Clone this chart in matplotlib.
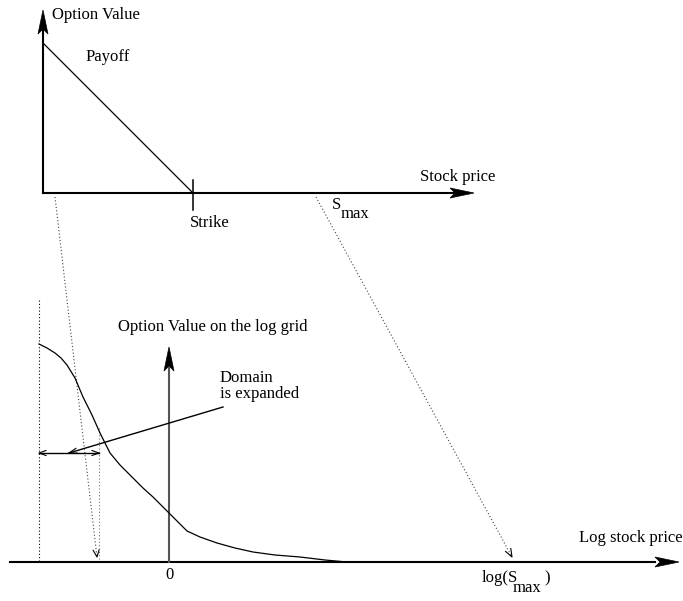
import matplotlib
matplotlib.use("Agg")
import matplotlib.pyplot as plt
from matplotlib.patches import Polygon

plt.rcParams['font.family'] = ['Liberation Serif', 'DejaVu Serif']

# Diagram drawn on a canvas measured in pixels (y grows downward)
W, H = 683, 601

# Upper panel: payoff of a put option against stock price
payoff_x = [43, 193]
payoff_y = [43, 193]
strike_x = 193
smax_x = 316
top_axis_y = 193

# Lower panel: smoothed option value on the log grid
curve_x = [39, 47, 55, 61, 67, 75, 83, 92, 100, 105, 110, 120, 133, 143, 153,
           162, 169, 178, 187, 200, 217, 235, 253, 275, 300, 325, 347]
curve_y = [344, 348, 353, 358, 365, 378, 397, 415, 433, 443, 453, 465, 478,
           488, 497, 506, 513, 522, 531, 537, 543, 548, 552, 555, 557, 560, 562]
log_axis_y = 562
log_zero_x = 169
log_smax_x = 512
left_bound_x = 39
expanded_x = 99

fig = plt.figure(figsize=(W / 100, H / 100), dpi=100)
ax = fig.add_axes([0, 0, 1, 1])
ax.set_xlim(0, W)
ax.set_ylim(H, 0)
ax.axis('off')


def filled_head(ax, tip, direction, length=24, half=5, indent=5, color='black'):
    tx, ty = tip
    dx, dy = direction
    px, py = -dy, dx
    bx, by = tx - dx * length, ty - dy * length
    ix, iy = tx - dx * (length - indent), ty - dy * (length - indent)
    pts = [(tx, ty), (bx + px * half, by + py * half), (ix, iy),
           (bx - px * half, by - py * half)]
    ax.add_patch(Polygon(pts, closed=True, facecolor=color, edgecolor=color, lw=0.5))


def open_head(ax, tip, direction, length=8, half=3, color='black', lw=0.8, ls='-'):
    tx, ty = tip
    dx, dy = direction
    px, py = -dy, dx
    bx, by = tx - dx * length, ty - dy * length
    ax.plot([bx + px * half, tx, bx - px * half], [by + py * half, ty, by - py * half],
            color=color, lw=lw, ls=ls)


def unit(x0, y0, x1, y1):
    d = ((x1 - x0) ** 2 + (y1 - y0) ** 2) ** 0.5
    return ((x1 - x0) / d, (y1 - y0) / d)


# ---- upper panel ----
ax.plot([43, 43], [top_axis_y, 30], color='black', lw=1.5)
filled_head(ax, (43, 10), (0, -1), length=24, half=5)
ax.plot([43, 455], [top_axis_y, top_axis_y], color='black', lw=1.5)
filled_head(ax, (474, top_axis_y), (1, 0), length=24, half=5)
ax.plot(payoff_x, payoff_y, color='black', lw=0.9)
ax.plot([strike_x, strike_x], [180, 210], color='black', lw=1.1)

ax.text(52, 15, 'Option Value', fontsize=12, va='center', ha='left')
ax.text(86, 57, 'Payoff', fontsize=12, va='center', ha='left')
ax.text(190, 223, 'Strike', fontsize=12, va='center', ha='left')
ax.text(420, 177, 'Stock price', fontsize=12, va='center', ha='left')
ax.text(332, 205, 'S', fontsize=12, va='center', ha='left')
ax.text(341, 214, 'max', fontsize=12, va='center', ha='left')

# ---- mapping lines between the panels ----
dot = (0, (1, 2))
ax.plot([55, 97], [197, 557], color='#444444', lw=0.8, ls=dot)
open_head(ax, (97, 557), unit(55, 197, 97, 557), length=7, half=3)
ax.plot([smax_x, log_smax_x], [197, 557], color='#444444', lw=0.8, ls=dot)
open_head(ax, (log_smax_x, 557), unit(smax_x, 197, log_smax_x, 557), length=8, half=3)
ax.plot([left_bound_x, left_bound_x], [300, log_axis_y], color='black', lw=0.8, ls=dot)
ax.plot([expanded_x, expanded_x], [428, log_axis_y], color='#777777', lw=0.8, ls=dot)

# ---- lower panel ----
ax.plot([10, 655], [log_axis_y, log_axis_y], color='black', lw=1.5)
filled_head(ax, (679, log_axis_y), (1, 0), length=24, half=5)
ax.plot([log_zero_x, log_zero_x], [log_axis_y, 368], color='#555555', lw=1.5)
filled_head(ax, (log_zero_x, 347), (0, -1), length=24, half=5)
ax.plot(curve_x, curve_y, color='black', lw=0.9)

# double-headed arrow marking the expanded domain
ax.plot([left_bound_x, expanded_x], [453, 453], color='black', lw=1.0)
open_head(ax, (left_bound_x, 453), (-1, 0), length=7, half=2.5)
open_head(ax, (expanded_x, 453), (1, 0), length=7, half=2.5)

# leader from the annotation to the arrow
ax.plot([223, 69], [407, 453], color='black', lw=1.0)
open_head(ax, (69, 453), unit(223, 407, 69, 453), length=8, half=2.5)

ax.text(118, 327, 'Option Value on the log grid', fontsize=12, va='center', ha='left')
ax.text(220, 378, 'Domain', fontsize=12, va='center', ha='left')
ax.text(220, 394, 'is expanded', fontsize=12, va='center', ha='left')
ax.text(log_zero_x, 575, '0', fontsize=12, va='center', ha='center')
ax.text(579, 538, 'Log stock price', fontsize=12, va='center', ha='left')
ax.text(482, 578, 'log(S', fontsize=12, va='center', ha='left')
ax.text(513, 588, 'max', fontsize=12, va='center', ha='left')
ax.text(544, 578, ')', fontsize=12, va='center', ha='left')

fig.savefig('out.png', dpi=100)
